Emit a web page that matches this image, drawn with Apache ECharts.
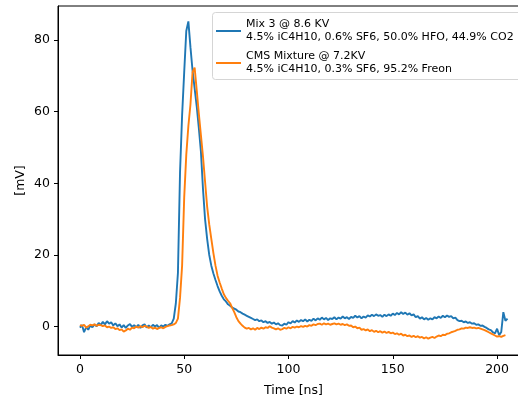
<!DOCTYPE html>
<html>
<head>
<meta charset="utf-8">
<script src="https://cdn.jsdelivr.net/npm/echarts@6/dist/echarts.min.js"></script>
<style>
html,body{margin:0;padding:0;background:#fff;overflow:hidden;}
#chart{width:529px;height:401px;}
</style>
</head>
<body>
<div id="chart"></div>
<script>
const timeNs = [0,1,2,3,4,5,6,7,8,9,10,11,12,13,14,15,16,17,18,19,20,21,22,23,24,25,26,27,28,29,30,31,32,33,34,35,36,37,38,39,40,41,42,43,44,45,46,47,48,49,50,51,52,53,54,55,56,57,58,59,60,61,62,63,64,65,66,67,68,69,70,71,72,73,74,75,76,77,78,79,80,81,82,83,84,85,86,87,88,89,90,91,92,93,94,95,96,97,98,99,100,101,102,103,104,105,106,107,108,109,110,111,112,113,114,115,116,117,118,119,120,121,122,123,124,125,126,127,128,129,130,131,132,133,134,135,136,137,138,139,140,141,142,143,144,145,146,147,148,149,150,151,152,153,154,155,156,157,158,159,160,161,162,163,164,165,166,167,168,169,170,171,172,173,174,175,176,177,178,179,180,181,182,183,184,185,186,187,188,189,190,191,192,193,194,195,196,197,198,199,200,201,202,203,204,205];

const mix3Values = [
-0.3,0.4,-1.6,-0.2,-0.9,0.3,-0.2,0.6,0.1,1.0,
0.4,1.3,0.6,1.5,0.8,1.2,0.3,0.9,0.1,0.6,
-0.3,0.4,-0.4,0.3,0.7,-0.1,0.4,-0.2,0.5,-0.4,
0.3,0.6,-0.3,0.3,-0.2,0.5,0.0,0.4,-0.4,0.3,
0.0,0.5,0.2,0.6,0.9,2.2,6.5,15,43,59,
71,82.5,85.2,78,71.5,66.5,61.5,55.5,49,38.5,
30,24.5,20,17,14.8,13,11.3,9.8,8.6,7.6,
7.0,6.2,5.8,5.3,5.0,4.7,4.2,4.0,3.6,3.3,
3.0,2.7,2.4,2.1,1.8,2.0,1.5,1.7,1.2,1.5,
1.0,1.3,0.8,1.1,0.6,0.9,0.4,0.3,0.8,0.5,
1.2,0.9,1.5,1.1,1.7,1.3,1.8,1.5,2.0,1.4,
1.9,1.6,2.2,1.7,2.3,1.9,2.5,2.0,2.4,1.8,
2.3,2.1,2.6,2.0,2.5,2.2,2.8,2.3,2.6,2.1,
2.7,2.4,3.0,2.5,2.9,2.3,2.8,2.5,3.1,2.8,
3.3,2.9,3.4,3.0,3.2,2.7,3.3,2.9,3.4,3.0,
3.6,3.2,3.8,3.4,4.0,3.5,3.9,3.3,3.7,3.1,
3.4,2.6,2.9,2.2,2.6,2.0,2.4,1.9,2.3,2.0,
2.6,2.3,2.8,2.4,3.0,2.6,3.1,2.7,2.9,2.3,
2.5,1.8,1.5,1.6,1.2,1.4,1.0,1.2,0.8,0.9,
0.5,0.6,0.2,0.3,-0.1,-0.4,-0.8,-1.0,-1.6,-1.9,
-0.6,-2.4,-1.5,4.0,1.6,2.2
];

const cmsValues = [
0.4,0.2,0.5,-0.3,0.1,0.5,0.3,0.6,0.2,0.5,
0.4,0.1,0.3,-0.2,0.0,-0.4,-0.2,-0.7,-0.5,-1.0,
-0.8,-1.4,-1.1,-0.6,-0.9,-0.3,-0.5,0.0,-0.3,0.1,
-0.2,0.2,0.0,-0.4,-0.1,-0.6,-0.3,-0.7,-0.4,-0.2,
-0.5,-0.1,0.1,0.3,0.4,0.6,1.0,2.2,8,17,
36,48,56,62,71,72.3,66,59.5,53.5,47.5,
40.5,33.5,28.5,24.5,20.5,17,14.2,12.3,10.6,9.0,
8.0,7.2,6.5,5.2,4.0,2.6,1.5,0.8,0.2,-0.3,
-0.6,-0.4,-0.8,-0.5,-0.9,-0.4,-0.7,-0.3,-0.6,-0.2,
-0.4,0.1,-0.3,-0.5,-0.8,-0.5,-0.9,-0.7,-0.4,-0.6,
-0.2,-0.5,-0.1,-0.3,0.0,-0.2,0.1,-0.1,0.2,0.0,
0.4,0.2,0.6,0.4,0.7,0.8,0.5,0.9,0.6,0.8,
0.5,0.7,0.9,0.6,0.8,0.5,0.7,0.4,0.6,0.2,
0.3,-0.2,0.0,-0.5,-0.3,-0.9,-0.7,-1.1,-0.8,-1.3,
-1.0,-1.5,-1.2,-1.6,-1.3,-1.7,-1.4,-1.8,-1.5,-1.9,
-1.7,-2.1,-1.9,-2.3,-2.0,-2.5,-2.3,-2.7,-2.5,-2.9,
-2.6,-3.0,-2.7,-3.1,-2.9,-3.3,-3.0,-3.4,-3.1,-2.9,
-3.2,-2.8,-2.5,-2.7,-2.3,-2.4,-2.0,-1.9,-1.6,-1.4,
-1.2,-0.9,-0.8,-0.5,-0.6,-0.3,-0.4,-0.2,-0.4,-0.3,
-0.5,-0.4,-0.6,-0.8,-1.0,-1.3,-1.6,-1.9,-2.2,-2.5,
-2.8,-2.7,-2.9,-2.6,-2.4
];

const xTicks = [0, 50, 100, 150, 200];
const yTicks = [0, 20, 40, 60, 80];
const seriesNames = [
  'Mix 3 @ 8.6 KV\n4.5% iC4H10, 0.6% SF6, 50.0% HFO, 44.9% CO2',
  'CMS Mixture @ 7.2KV\n4.5% iC4H10, 0.3% SF6, 95.2% Freon'
];
const xLabel = 'Time [ns]';
const yLabel = '[mV]';

function pairs(vals) {
  return vals.map((v, i) => [timeNs[i], v]);
}

const FONT = 'DejaVu Sans';
const chart = echarts.init(document.getElementById('chart'), null, {renderer: 'canvas'});
chart.setOption({
  animation: false,
  backgroundColor: '#fff',
  textStyle: {fontFamily: FONT},
  grid: {
    left: 58, top: 6, bottom: 46, right: 0,
    show: true, borderColor: '#000', borderWidth: 1, backgroundColor: 'transparent',
    containLabel: false, outerBoundsMode: 'none'
  },
  graphic: [{
    type: 'rect', z: 3, silent: true,
    shape: {x: 212.5, y: 12.5, width: 330, height: 67, r: 3},
    style: {fill: 'rgba(255,255,255,0.8)', stroke: '#d5d5d5', lineWidth: 1}
  }],
  legend: {
    left: 213, top: 12,
    orient: 'vertical',
    padding: [6, 4, 4, 3],
    itemGap: 6,
    itemWidth: 25,
    itemHeight: 2,
    icon: 'rect',
    z: 4,
    textStyle: {fontFamily: FONT, fontSize: 11, color: '#000', lineHeight: 13},
    data: seriesNames
  },
  xAxis: {
    type: 'value',
    min: -10.5, max: 215.3,
    name: xLabel, nameLocation: 'middle', nameGap: 29,
    nameTextStyle: {fontFamily: FONT, fontSize: 12.5, color: '#000'},
    axisLine: {show: true, onZero: false, lineStyle: {color: '#000', width: 1}},
    axisTick: {show: true, length: 4, customValues: xTicks, lineStyle: {color: '#000'}},
    axisLabel: {customValues: xTicks, fontFamily: FONT, fontSize: 12.5, color: '#000', margin: 8},
    splitLine: {show: false}
  },
  yAxis: {
    type: 'value',
    min: -7.95, max: 89.5,
    name: yLabel, nameLocation: 'middle', nameGap: 31, nameMoveOverlap: false,
    nameTextStyle: {fontFamily: FONT, fontSize: 12.5, color: '#000'},
    axisLine: {show: true, onZero: false, lineStyle: {color: '#000', width: 1}},
    axisTick: {show: true, length: 4, customValues: yTicks, lineStyle: {color: '#000'}},
    axisLabel: {customValues: yTicks, fontFamily: FONT, fontSize: 12.5, color: '#000', margin: 8},
    splitLine: {show: false}
  },
  series: [
    {
      name: seriesNames[0], type: 'line', data: pairs(mix3Values),
      showSymbol: false, symbol: 'none', color: '#1f77b4',
      lineStyle: {color: '#1f77b4', width: 1.9}
    },
    {
      name: seriesNames[1], type: 'line', data: pairs(cmsValues),
      showSymbol: false, symbol: 'none', color: '#ff7f0e',
      lineStyle: {color: '#ff7f0e', width: 1.9}
    }
  ]
});
</script>
</body>
</html>
